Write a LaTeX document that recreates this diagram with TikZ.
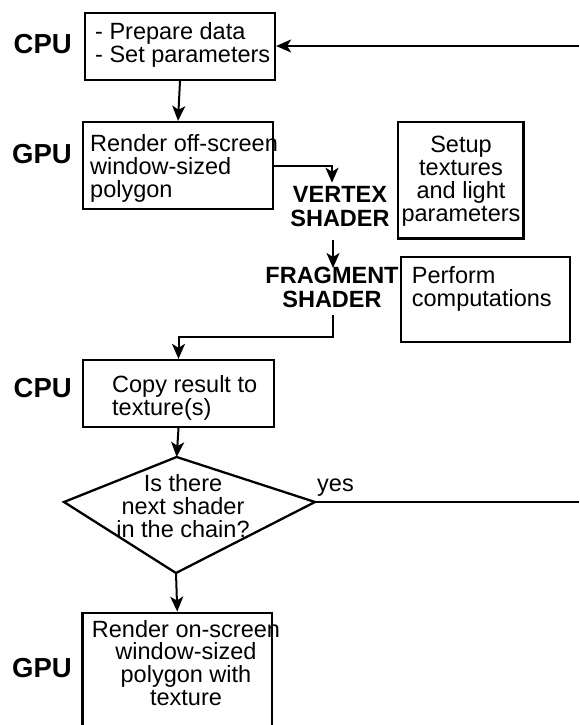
\documentclass[tikz,border=0pt]{standalone}
\usepackage{fontspec}
\setmainfont{Liberation Sans}
\usetikzlibrary{arrows.meta}
% zero-width strut that fixes the height of the first text line
\newcommand{\firstline}{\rule{0pt}{18pt}}
\begin{document}
\begin{tikzpicture}[x=1pt,y=-1pt,
  outline/.style={draw, line width=2.3pt},
  box/.style={outline, inner sep=0pt},
  body/.style={font=\fontsize{23.5}{22.7}\selectfont, inner sep=0pt},
  unit/.style={font=\bfseries\fontsize{27.5}{30}\selectfont, inner sep=0pt, anchor=base east},
  stage/.style={font=\bfseries\fontsize{23.5}{24}\selectfont, inner sep=0pt, align=center, anchor=north},
  link/.style={line width=2pt, -{Stealth[length=15pt,width=13pt,inset=4pt]}},
  plain/.style={line width=2pt}]

\path[use as bounding box] (0,0) rectangle (579,725);
\fill[white] (0,0) rectangle (579,725);
\clip (0,0) rectangle (579,725);

% process boxes
\node[box, minimum width=190pt, minimum height=67.3pt] (box1) at (180,46.35) {};
\node[box, minimum width=190pt, minimum height=87pt] (box2) at (178,165.5) {};
\node[box, minimum width=125.3pt, minimum height=116.3pt] (setup) at (460.7,180.2) {};
\node[box, minimum width=169.3pt, minimum height=85pt] (perform) at (485.4,299.2) {};
\node[box, minimum width=191pt, minimum height=67pt] (box3) at (178.5,393.5) {};
\node[box, minimum width=189.5pt, minimum height=127.3pt] (box4) at (177.25,676.35) {};

% box texts
\node[body, align=left, anchor=north west] (t1) at (95,21.5)
  {\firstline- Prepare data\\- Set parameters};
\node[body, align=left, anchor=north west] (t2) at (90,133.7)
  {\firstline Render off-screen\\window-sized\\polygon};
\node[body, align=center, anchor=north] (tsetup) at (461,134.7)
  {\firstline Setup\\textures\\and light\\parameters};
\node[body, align=left, anchor=north west] (tperf) at (411.7,265.5)
  {\firstline Perform\\computations};
\node[body, align=left, anchor=north west] (t3) at (112,374.7)
  {\firstline Copy result to\\texture(s)};
\node[body, align=center, anchor=north] (t4) at (186,619)
  {\firstline Render on-screen\\window-sized\\polygon with\\texture};

% shader stages
\node[stage] (vertex) at (340,184.7) {\firstline VERTEX\\SHADER};
\node[stage] (fragment) at (332,265) {\firstline FRAGMENT\\SHADER};

% processor labels
\node[unit] (cpu1) at (72,53) {CPU};
\node[unit] (gpu2) at (72,163) {GPU};
\node[unit] (cpu3) at (72,397) {CPU};
\node[unit] (gpu4) at (72,677) {GPU};

% decision
\coordinate (qtop) at (176.7,457);
\coordinate (qright) at (315,502);
\coordinate (qbot) at (176,573);
\coordinate (qleft) at (64,502);
\draw[outline, line join=miter] (qtop) -- (qright) -- (qbot) -- (qleft) -- cycle;
\node[body, align=center, anchor=north] (tq) at (183,473.7)
  {\firstline Is there\\next shader\\in the chain?};
\node[body, anchor=base west] (yes) at (317,491.7) {yes};

% connectors
\coordinate (back) at (579,46);
\coordinate (qout) at (579,502);
\draw[link] (back) -- (back -| box1.east);
\draw[link] (box1.south) -- (box2.north);
\draw[link] (box2.east) -| ([xshift=-8pt,yshift=2pt]vertex.north);
\draw[link] ([xshift=-7pt,yshift=-13pt]vertex.south) -- ([xshift=1pt,yshift=-3pt]fragment.north);
\draw[link] ([xshift=1pt,yshift=-7pt]fragment.south) -- ++(0,22) -| (box3.north);
\draw[link] (box3.south) -- (qtop);
\draw[link] (qbot) -- (box4.north);
\draw[plain] (qright) -- (qout);
\end{tikzpicture}
\end{document}
